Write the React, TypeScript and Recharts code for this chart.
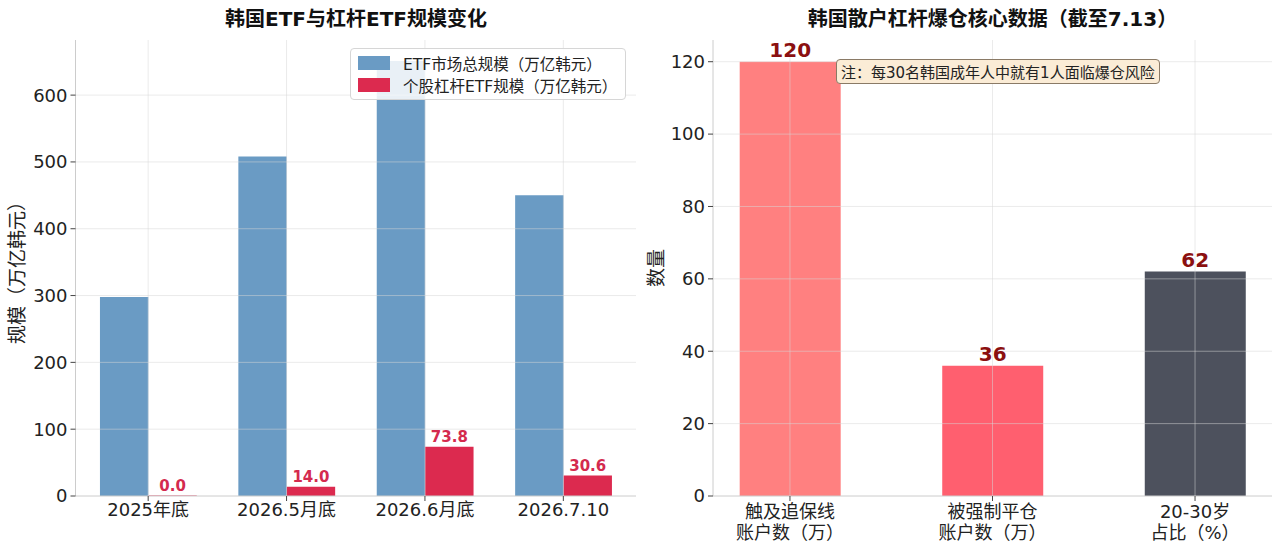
import React from "react";
import {
  BarChart, Bar, XAxis, YAxis, LabelList, Cell, Legend, ReferenceLine,
} from "recharts";

/* ── 韩国ETF与杠杆ETF规模变化 ───────────────────────── */
const periods = ["2025年底", "2026.5月底", "2026.6月底", "2026.7.10"];
const etfTotal = [298, 508, 651, 450];
const leverageEtf = [0.0, 14.0, 73.8, 30.6];
const scaleTicks = [0, 100, 200, 300, 400, 500, 600];

/* ── 韩国散户杠杆爆仓核心数据 ───────────────────────── */
const riskLines = [
  ["触及追保线", "账户数（万）"],
  ["被强制平仓", "账户数（万）"],
  ["20-30岁", "占比（%）"],
];
const riskValues = [120, 36, 62];
const countTicks = [0, 20, 40, 60, 80, 100, 120];

const riskColors = ["#ff8080", "#ff5f6f", "#4d515d"];
const font = "'DejaVu Sans', 'Noto Sans CJK SC', sans-serif";
const axisStroke = "#cccccc";
const gridStroke = "rgba(215,215,215,0.5)";

const leftData = periods.map((p, i) => ({ idx: i, name: p, total: etfTotal[i], lev: leverageEtf[i] }));
const rightData = riskValues.map((v, i) => ({ idx: i, value: v }));

const titleStyle: React.CSSProperties = {
  position: "absolute", top: 3, fontFamily: font, fontWeight: 700, fontSize: 20,
  color: "#111", textAlign: "center", whiteSpace: "nowrap",
};

function LegendBox() {
  const rows = [
    { color: "#6a9bc4", text: "ETF市场总规模（万亿韩元）" },
    { color: "#dc2a4f", text: "个股杠杆ETF规模（万亿韩元）" },
  ];
  return (
    <div style={{
      border: "1px solid #d6d6d6", borderRadius: 4, background: "rgba(255,255,255,0.85)",
      padding: "3px 8px 3px 7px", fontFamily: font, fontSize: 15.5, color: "#222",
    }}>
      {rows.map((r) => (
        <div key={r.text} style={{ display: "flex", alignItems: "center", height: 22 }}>
          <span style={{ width: 32, height: 14, background: r.color, marginRight: 13 }} />
          <span>{r.text}</span>
        </div>
      ))}
    </div>
  );
}

function RiskTick(props: any) {
  const { x, y, payload } = props;
  const lines = riskLines[payload.value] || [];
  return (
    <text x={x} y={y} textAnchor="middle" fontFamily={font} fontSize={18} fill="#222">
      {lines.map((l, i) => (
        <tspan key={i} x={x} dy={i === 0 ? 17 : 21}>{l}</tspan>
      ))}
    </text>
  );
}

export default function App() {
  return (
    <div style={{ position: "fixed", left: 0, top: 0, width: 1280, height: 552, background: "#fff" }}>
      <div style={{ ...titleStyle, left: 75, width: 562 }}>韩国ETF与杠杆ETF规模变化</div>
      <div style={{ ...titleStyle, left: 713, width: 559 }}>韩国散户杠杆爆仓核心数据（截至7.13）</div>

      {/* left chart */}
      <div style={{ position: "absolute", left: 0, top: 0 }}>
        <BarChart width={640} height={552} data={leftData} barGap={0}
          margin={{ top: 40, right: 4, bottom: 0, left: 0 }}>
          <XAxis type="number" dataKey="idx" domain={[-0.525, 3.525]} ticks={[0, 1, 2, 3]}
            allowDataOverflow height={56} stroke={axisStroke} tickSize={5} tickMargin={2}
            tickLine={{ stroke: "#444" }} tickFormatter={(v) => periods[v]}
            tick={{ fill: "#222", fontSize: 18, fontFamily: font }} />
          <YAxis type="number" domain={[0, 682.5]} ticks={scaleTicks} width={75.5}
            stroke={axisStroke} tickSize={5} tickMargin={3} tickLine={{ stroke: "#444" }}
            tick={{ fill: "#222", fontSize: 18, fontFamily: font }}
            label={() => (
              <text x={17} y={268} transform="rotate(-90,17,268)" textAnchor="middle"
                dominantBaseline="central" fontFamily={font} fontSize={19} fill="#222">
                规模（万亿韩元）
              </text>
            )} />
          <Bar dataKey="total" fill="#6a9bc4" barSize={48.4} isAnimationActive={false} />
          <Bar dataKey="lev" fill="#dc2a4f" barSize={48.4} minPointSize={0.5} isAnimationActive={false}>
            <LabelList dataKey="lev" position="top" offset={5}
              formatter={(v: any) => Number(v).toFixed(1)}
              style={{ fill: "#d42a4e", fontSize: 15, fontWeight: 700, fontFamily: font }} />
          </Bar>
          {scaleTicks.slice(1).map((t) => (
            <ReferenceLine key={`h${t}`} y={t} stroke={gridStroke} />
          ))}
          {periods.map((p, i) => (
            <ReferenceLine key={p} x={i} stroke={gridStroke} />
          ))}
          <Legend verticalAlign="middle" layout="horizontal" content={() => <LegendBox />}
            wrapperStyle={{ position: "absolute", left: 350, top: 48, width: "auto" }} />
        </BarChart>
      </div>

      {/* right chart */}
      <div style={{ position: "absolute", left: 640, top: 0 }}>
        <BarChart width={640} height={552} data={rightData}
          margin={{ top: 40, right: 8, bottom: 0, left: 0 }}>
          <XAxis type="number" dataKey="idx" domain={[-0.38, 2.38]} ticks={[0, 1, 2]}
            allowDataOverflow height={56} stroke={axisStroke} tickSize={5} tickMargin={0}
            tickLine={{ stroke: "#444" }} tick={<RiskTick />} />
          <YAxis type="number" domain={[0, 126]} ticks={countTicks} width={73}
            stroke={axisStroke} tickSize={5} tickMargin={3} tickLine={{ stroke: "#444" }}
            tick={{ fill: "#222", fontSize: 18, fontFamily: font }}
            label={() => (
              <text x={16} y={268} transform="rotate(-90,16,268)" textAnchor="middle"
                dominantBaseline="central" fontFamily={font} fontSize={19} fill="#222">
                数量
              </text>
            )} />
          <Bar dataKey="value" barSize={101} isAnimationActive={false}>
            {rightData.map((d, i) => (
              <Cell key={d.idx} fill={riskColors[i]} />
            ))}
            <LabelList dataKey="value" position="top" offset={5}
              style={{ fill: "#8b1010", fontSize: 20, fontWeight: 700, fontFamily: font }} />
          </Bar>
          {countTicks.slice(1).map((t) => (
            <ReferenceLine key={`h${t}`} y={t} stroke={gridStroke} />
          ))}
          {riskLines.map((l, i) => (
            <ReferenceLine key={l[0]} x={i} stroke={gridStroke} />
          ))}
        </BarChart>
      </div>

      <div style={{
        position: "absolute", left: 836, top: 59, padding: "1px 4px", border: "1px solid #8a7a66",
        borderRadius: 4, background: "#fbecd6", fontFamily: font, fontSize: 15, color: "#222",
        whiteSpace: "nowrap",
      }}>
        注：每30名韩国成年人中就有1人面临爆仓风险
      </div>
    </div>
  );
}
